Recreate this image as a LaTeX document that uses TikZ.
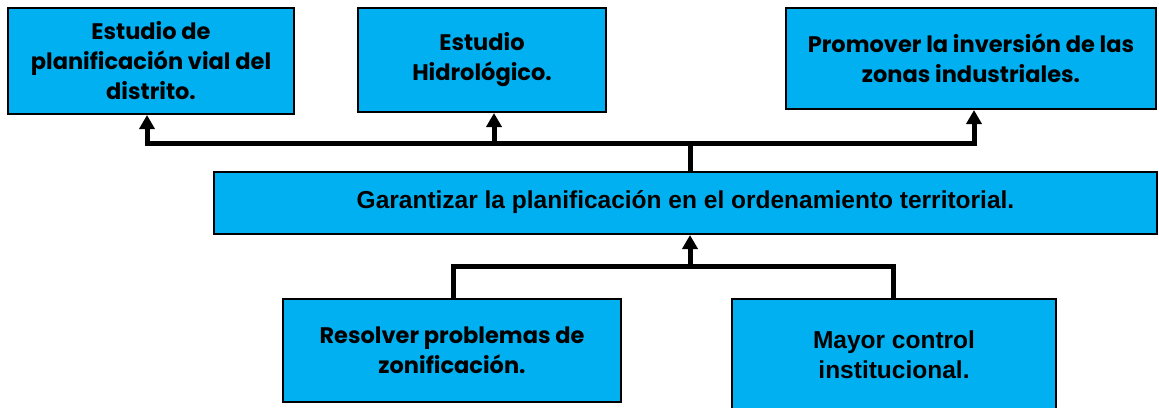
\documentclass[tikz,border=0pt]{standalone}
\usepackage{fontspec}
\setmainfont{Liberation Sans}
\newfontfamily\gothic{Poppins}
\usetikzlibrary{arrows.meta}
\definecolor{boxblue}{HTML}{00B0F0}
\tikzset{
  box/.style={draw=black, line width=2pt, fill=boxblue, align=center, inner sep=0pt},
  gbox/.style={box, font=\gothic\bfseries\fontsize{22.5}{30}\selectfont},
  abox/.style={box, font=\bfseries\fontsize{24.5}{30}\selectfont},
  conn/.style={line width=5pt, black},
  arr/.style={conn, -{Triangle[width=15pt,length=14pt]}},
}
\begin{document}
\begin{tikzpicture}[x=1pt,y=-1pt]
\useasboundingbox (0,0) rectangle (1159,407);
\begin{scope}
\clip (0,0) rectangle (1159,407);
\node[gbox, minimum width=286pt, minimum height=106pt] (A) at (151,61) {Estudio de\\planificación vial del\\distrito.};
\node[gbox, minimum width=248pt, minimum height=104pt] (B) at (482,60) {Estudio\\Hidrológico.};
\node[gbox, minimum width=370pt, minimum height=101pt] (C) at (971,58.5) {Promover la inversión de las\\zonas industriales.};
\node[abox, minimum width=943pt, minimum height=62pt] (D) at (685.5,203) {\raisebox{6pt}{Garantizar la planificación en el ordenamiento territorial.}};
\node[gbox, minimum width=338pt, minimum height=103pt] (E) at (452,350.5) {Resolver problemas de\\zonificación.};
\node[abox, minimum width=324pt, minimum height=112pt] (F) at (894,355) {Mayor control\\institucional.};
\end{scope}
\coordinate (jt) at (690,143);
\coordinate (jb) at (690,266);
\draw[conn] (D.north -| jt) -- (jt);
\draw[arr] (jt) -| (147,0 |- A.south);
\draw[arr] (jt) -| (974,0 |- C.south);
\draw[arr] (494,0 |- jt) -- (494,0 |- B.south);
\draw[conn] (453,0 |- E.north) |- (jb) -| (893,0 |- F.north);
\draw[arr] (jb) -- (D.south -| jb);
\end{tikzpicture}
\end{document}
